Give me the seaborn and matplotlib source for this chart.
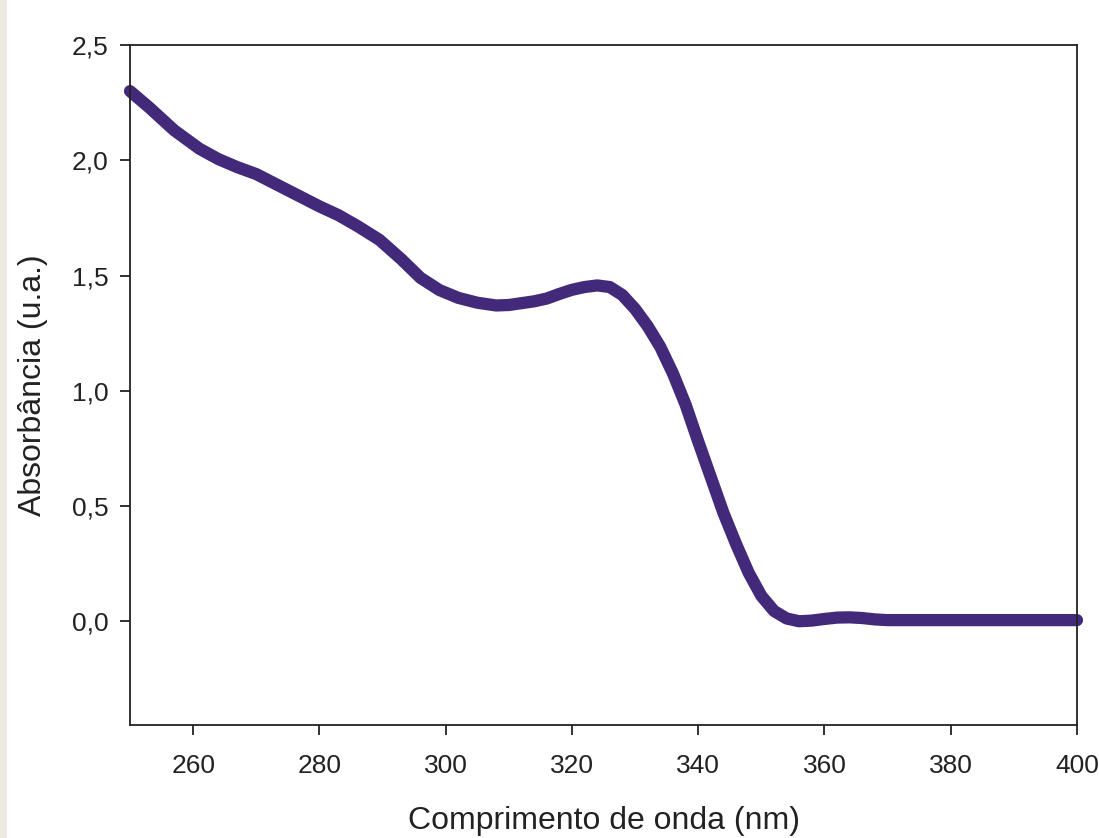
import numpy as np
import pandas as pd
import matplotlib
matplotlib.use("Agg")
import matplotlib.pyplot as plt
import seaborn as sns
from matplotlib.patches import Rectangle
from matplotlib.ticker import FuncFormatter

wavelength = [250, 253, 257, 261, 264, 267, 270, 275, 280, 283, 286, 289.5, 293, 296, 299,
              302, 305, 308, 310, 312, 314, 316, 318, 320, 322, 324, 326, 328, 330,
              332, 334, 336, 338, 340, 342, 344, 346, 348, 350, 352, 354, 356, 358, 360, 362,
              364, 366, 368, 370, 380, 390, 400]
absorbance = [2.30, 2.23, 2.13, 2.05, 2.005, 1.97, 1.94, 1.87, 1.80, 1.762, 1.715, 1.655, 1.57,
              1.49, 1.437, 1.403, 1.382, 1.37, 1.372, 1.38, 1.388, 1.40, 1.42,
              1.438, 1.45, 1.457, 1.45, 1.415, 1.355, 1.28, 1.19, 1.075, 0.94, 0.78, 0.625, 0.47,
              0.335, 0.21, 0.11, 0.045, 0.012, 0.0, 0.003, 0.01, 0.016, 0.017, 0.014, 0.008,
              0.005, 0.005, 0.005, 0.005]

df = pd.DataFrame({"wl": wavelength, "abs": absorbance})

sns.set_style("ticks")
plt.rcParams['font.family'] = ['Liberation Sans', 'DejaVu Sans']

fig = plt.figure(figsize=(10.99, 8.38), dpi=100)
fig.patches.append(Rectangle((0, 0), 7 / 1099, 1, transform=fig.transFigure,
                             facecolor="#ECE9E0", edgecolor="none", zorder=-1))
ax = fig.add_axes([130 / 1099, 1 - 725 / 838, (1077 - 130) / 1099, (725 - 45) / 838])

sns.lineplot(data=df, x="wl", y="abs", ax=ax, color="#43297A", linewidth=8.8,
             solid_capstyle="round", solid_joinstyle="round", clip_on=False)

ax.set_xlim(250, 400)
ax.set_ylim(-0.45, 2.5)
ax.set_xticks([260, 280, 300, 320, 340, 360, 380, 400])
ax.set_yticks([0.0, 0.5, 1.0, 1.5, 2.0, 2.5])
ax.yaxis.set_major_formatter(FuncFormatter(lambda v, p: f"{v:.1f}".replace(".", ",")))
for s in ax.spines.values():
    s.set_color("#222222")
    s.set_linewidth(1.3)
ax.tick_params(axis="both", direction="out", length=7.2, width=1.3, color="#222222",
               labelsize=19, labelcolor="#222222")
ax.tick_params(axis="x", pad=13.5)
ax.tick_params(axis="y", pad=8.5)
ax.tick_params(top=False, right=False)
ax.set_xlabel("Comprimento de onda (nm)", fontsize=23, color="#222222", labelpad=20)
ax.set_ylabel("Absorbância (u.a.)", fontsize=23, color="#222222", labelpad=17)

fig.savefig("out.png", dpi=100)
